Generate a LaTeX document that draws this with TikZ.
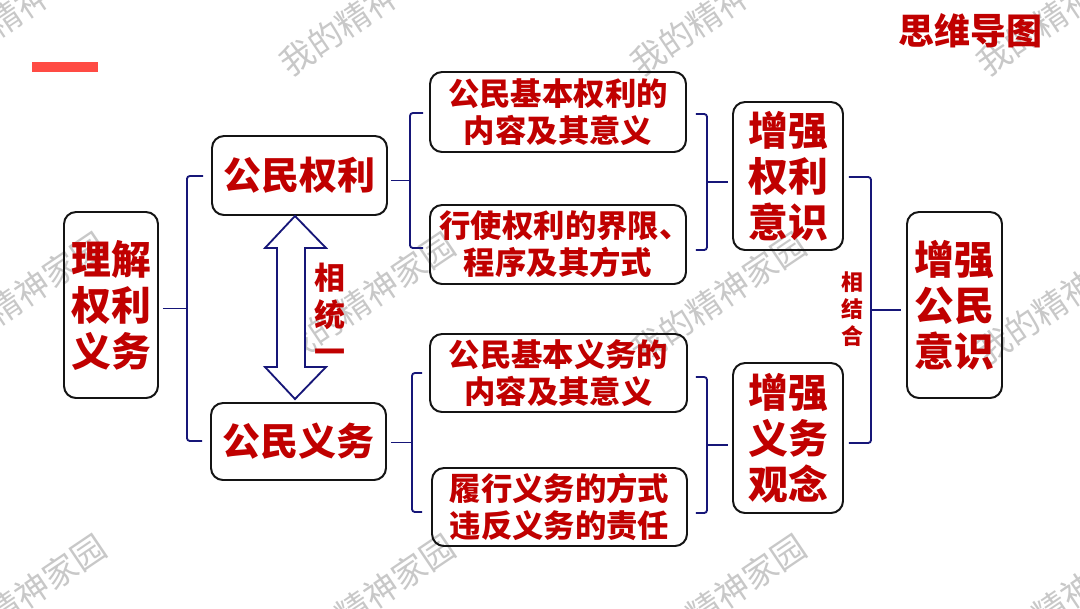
\documentclass[tikz,border=0pt]{standalone}
\usepackage{fontspec}
\newfontfamily\cjk{Noto Sans CJK SC}
\usetikzlibrary{calc}
\definecolor{txtred}{RGB}{192,0,0}
\definecolor{brnavy}{RGB}{22,22,120}
\definecolor{barred}{RGB}{255,75,68}
\definecolor{wmgray}{RGB}{200,200,200}
\definecolor{boxline}{RGB}{20,20,20}
\def\pxu{0.025cm}
\begin{document}
\begin{tikzpicture}[x=0.025cm,y=-0.025cm,
  box/.style={draw=boxline,line width=1.4pt,rounded corners=0.3cm,inner sep=0pt,align=center,text=txtred},
  fD/.style={font=\cjk\bfseries\fontsize{22.3pt}{26.3pt}\selectfont},
  fB/.style={font=\cjk\bfseries\fontsize{27pt}{30pt}\selectfont},
  fE/.style={font=\cjk\bfseries\fontsize{28.3pt}{32.7pt}\selectfont},
  brk/.style={draw=brnavy,line width=1.3pt,rounded corners=2pt},
  wm/.style={text=wmgray,font=\cjk\fontsize{24pt}{24pt}\selectfont,rotate=34,inner sep=0pt},
  lbl/.style={text=txtred,align=center,inner sep=0pt},
  dblarrow/.style={draw=brnavy,line width=1.3pt,fill=white,line join=miter}
]
\useasboundingbox (0,0) rectangle (1080,608);
\clip (0,0) rectangle (1080,608);
\fill[white] (0,0) rectangle (1080,608);

% watermarks
\foreach \wx in {18,367,718,1064}{
  \foreach \wy in {10,298,600}{
    \node[wm] at (\wx,\wy) {我的精神家园};
  }
}

% header
\fill[barred] (32,62) rectangle (98,72);
\node[lbl,font=\cjk\bfseries\fontsize{25.6pt}{30pt}\selectfont] (T) at (970.5,31) {思维导图};

% boxes
\node[box,fE,minimum width=94*\pxu,minimum height=186*\pxu] (A) at (111,305) {理解\\权利\\义务};
\node[box,fB,minimum width=175*\pxu,minimum height=79*\pxu] (B) at (299.5,175.5) {公民权利};
\node[box,fB,minimum width=175*\pxu,minimum height=77*\pxu] (C) at (298.5,441.5) {公民义务};
\node[box,fD,minimum width=256*\pxu,minimum height=80*\pxu] (D1) at (558,112) {公民基本权利的\\内容及其意义};
\node[box,fD,minimum width=256*\pxu,minimum height=79*\pxu] (D2) at (558,244.5) {行使权利的界限\makebox[0.55em][l]{、}\\程序及其方式};
\node[box,fD,minimum width=257*\pxu,minimum height=78*\pxu] (D3) at (558.5,373) {公民基本义务的\\内容及其意义};
\node[box,fD,minimum width=255*\pxu,minimum height=78*\pxu] (D4) at (559.5,507) {履行义务的方式\\违反义务的责任};
\node[box,fE,minimum width=110*\pxu,minimum height=148*\pxu] (E1) at (788,176) {增强\\权利\\意识};
\node[box,fE,minimum width=110*\pxu,minimum height=150*\pxu] (E2) at (788,438) {增强\\义务\\观念};
\node[box,fE,minimum width=95*\pxu,minimum height=186*\pxu] (F) at (954.5,305) {增强\\公民\\意识};

% brackets
\draw[brk] ($(B.west)+(-8,0.5)$) -- (187,176) -- (187,441) -- ($(C.west)+(-8,-0.5)$);
\draw[brk] ($(A.east)+(4,3.5)$) -- (187,308.5);

\draw[brk] ($(D1.west)+(-6,1)$) -- (410,113) -- (410,248) -- ($(D2.west)+(-6,3.5)$);
\draw[brk] ($(B.east)+(3,5)$) -- (410,180.5);

\draw[brk] ($(D3.west)+(-7,0)$) -- (412,373) -- (412,512) -- ($(D4.west)+(-9,5)$);
\draw[brk] ($(C.east)+(4,1)$) -- (412,442.5);

\draw[brk] ($(D1.east)+(9,2)$) -- (707,114) -- (707,250) -- ($(D2.east)+(9,5.5)$);
\draw[brk] (707,182) -- ($(E1.west)+(-4,6)$);

\draw[brk] ($(D3.east)+(8,4)$) -- (707,377) -- (707,513) -- ($(D4.east)+(8,6)$);
\draw[brk] (707,445) -- ($(E2.west)+(-4,7)$);

\draw[brk] ($(E1.east)+(5,1)$) -- (871,177) -- (871,443) -- ($(E2.east)+(5,5)$);
\draw[brk] (871,310) -- ($(F.west)+(-5,5)$);

% double arrow between B and C
\coordinate (ut) at ($(B.south)+(-4.5,0)$);
\coordinate (dt) at ($(C.north)+(-3.5,-3)$);
\draw[dblarrow] (ut) -- (326,248) -- (305,248) -- (305,367) -- (326,367) -- (dt)
  -- (265,367) -- (277,367) -- (277,248) -- (265,248) -- cycle;

% labels
\node[lbl,font=\cjk\bfseries\fontsize{22pt}{26.3pt}\selectfont] (L1) at (330,313.5) {相\\统\\一};
\node[lbl,font=\cjk\bfseries\fontsize{15.6pt}{19.2pt}\selectfont] (L2) at (852,309) {相\\结\\合};
\end{tikzpicture}
\end{document}
